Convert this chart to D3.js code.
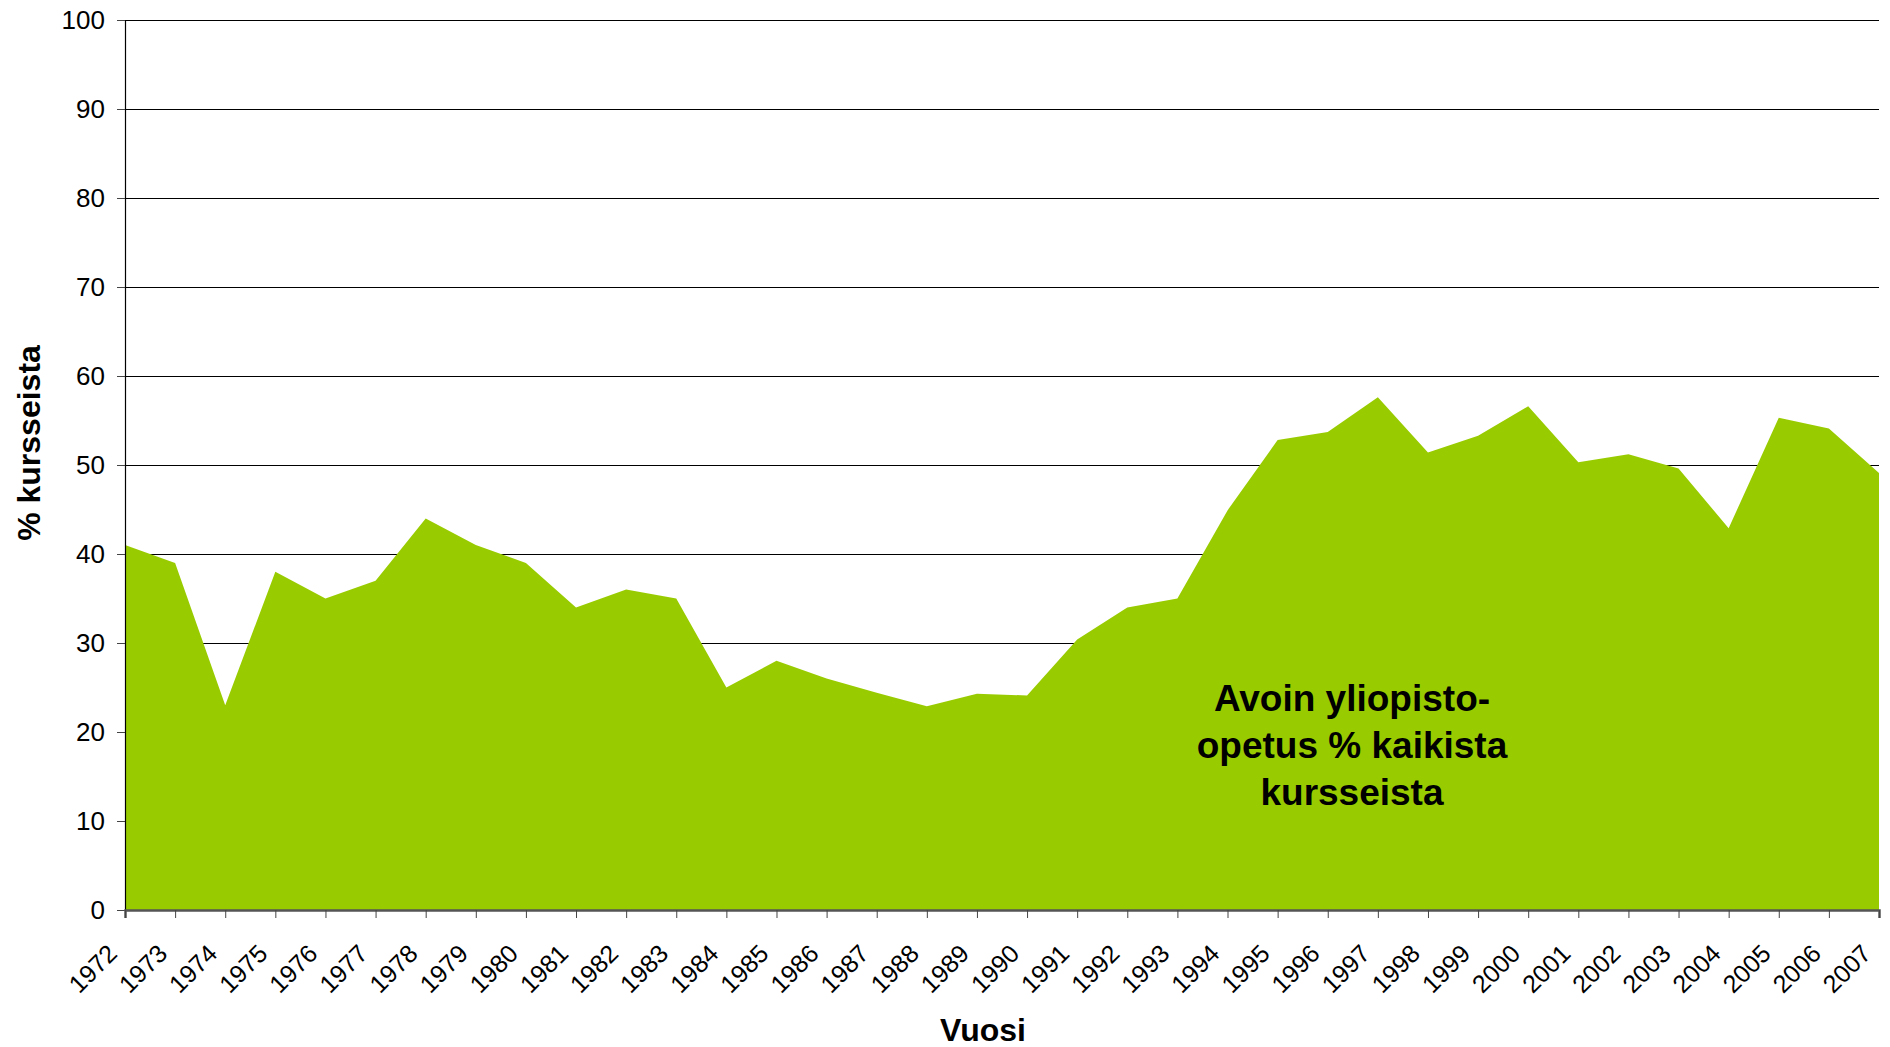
<!DOCTYPE html>
<html>
<head>
<meta charset="utf-8">
<script src="https://cdn.jsdelivr.net/npm/d3@7"></script>
<style>
  body { margin: 0; background: #fff; }
  text { font-family: "Liberation Sans", Arial, sans-serif; }
</style>
</head>
<body>
<script>
const width = 1890;
const height = 1047;
const margin = {top: 20, right: 11, bottom: 137, left: 125};

const years = d3.range(1972, 2008);
const shares = [41, 39, 23, 38, 35, 37, 44, 41, 39, 34,
    36, 35, 25, 28, 26, 24.4, 22.9, 24.3, 24.1, 30.4,
    34, 35, 44.9, 52.8, 53.7, 57.6, 51.4, 53.3, 56.6, 50.3,
    51.2, 49.6, 42.9, 55.3, 54.1, 49.1];
const yTicks = [0, 10, 20, 30, 40, 50, 60, 70, 80, 90, 100];
const seriesLabel = ["Avoin yliopisto-", "opetus % kaikista", "kursseista"];

const svg = d3.select("body").append("svg")
    .attr("width", width)
    .attr("height", height);

const x = d3.scaleLinear()
    .domain([1972, 2007])
    .range([margin.left, width - margin.right]);
const y = d3.scaleLinear()
    .domain([0, 100])
    .range([height - margin.bottom, margin.top]);

// grid lines
svg.append("g")
    .selectAll("line")
    .data(yTicks.slice(1))
    .join("line")
    .attr("x1", margin.left)
    .attr("x2", width - margin.right)
    .attr("y1", d => y(d) + 0.5)
    .attr("y2", d => y(d) + 0.5)
    .attr("stroke", "#000")
    .attr("stroke-width", 1);

const area = d3.area()
    .x((d, i) => x(years[i]))
    .y0(y(0))
    .y1(d => y(d));

svg.append("path")
    .datum(shares)
    .attr("d", area)
    .attr("fill", "#99cc00");

// y axis
const yAxis = svg.append("g")
    .attr("transform", "translate(" + margin.left + ",0)")
    .call(d3.axisLeft(y).tickValues(yTicks).tickSize(8).tickPadding(12));
yAxis.select(".domain").attr("stroke", "#000").attr("stroke-width", 1.2);
yAxis.selectAll(".tick line").attr("stroke", "#444");
yAxis.selectAll("text")
    .attr("font-size", 26)
    .attr("fill", "#000");

// x axis
const xAxis = svg.append("g")
    .attr("transform", "translate(0," + y(0) + ")")
    .call(d3.axisBottom(x).tickValues(years).tickSize(8).tickFormat(d3.format("d")));
xAxis.select(".domain").attr("stroke", "#555").attr("stroke-width", 2.5);
xAxis.selectAll(".tick line").attr("stroke", "#444");
xAxis.selectAll("text")
    .attr("font-size", 25)
    .attr("fill", "#000")
    .attr("text-anchor", "end")
    .attr("transform", "translate(-13,39) rotate(-45)")
    .attr("x", 0)
    .attr("y", 0)
    .attr("dy", "0.35em");

// axis titles
svg.append("text")
    .attr("transform", "translate(40," + (margin.top + 423) + ") rotate(-90)")
    .attr("text-anchor", "middle")
    .attr("font-size", 32)
    .attr("font-weight", "bold")
    .text("% kursseista");

svg.append("text")
    .attr("x", 983)
    .attr("y", 1041)
    .attr("text-anchor", "middle")
    .attr("font-size", 32)
    .attr("font-weight", "bold")
    .text("Vuosi");

// series label inside area
svg.append("g")
    .selectAll("text")
    .data(seriesLabel)
    .join("text")
    .attr("x", 1352)
    .attr("y", (d, i) => 711 + i * 47)
    .attr("text-anchor", "middle")
    .attr("font-size", 37)
    .attr("font-weight", "bold")
    .text(d => d);
</script>
</body>
</html>
